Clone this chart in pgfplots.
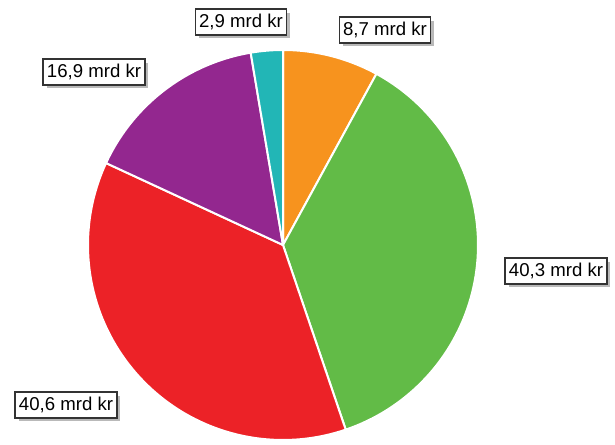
\documentclass[border=0pt]{standalone}
\usepackage{pgfplots}
\pgfplotsset{compat=1.18}
\usepackage{fontspec}
\setmainfont{Liberation Sans}
\usetikzlibrary{shadows}
\definecolor{cOrange}{HTML}{F7931E}
\definecolor{cGreen}{HTML}{62BB47}
\definecolor{cRed}{HTML}{EC2227}
\definecolor{cPurple}{HTML}{93278F}
\definecolor{cTeal}{HTML}{22B6B6}
% values (mrd kr), clockwise from top
\def\vA{8.7}\def\vB{40.3}\def\vC{40.6}\def\vD{16.9}\def\vE{2.9}
\pgfmathsetmacro\tot{\vA+\vB+\vC+\vD+\vE}
\pgfmathsetmacro\aA{0}
\pgfmathsetmacro\aB{\vA/\tot*360}
\pgfmathsetmacro\aC{(\vA+\vB)/\tot*360}
\pgfmathsetmacro\aD{(\vA+\vB+\vC)/\tot*360}
\pgfmathsetmacro\aE{(\vA+\vB+\vC+\vD)/\tot*360}
\def\cx{283}\def\cy{199}\def\rr{195}
\tikzset{lbl/.style={draw=black!80, line width=0.9pt, fill=white, font=\fontsize{9.3}{10}\selectfont,
  inner xsep=1.8pt, inner ysep=0pt, minimum height=12.8pt,
  drop shadow={shadow xshift=1.6pt, shadow yshift=-1.8pt, fill=black!50, opacity=0.55}}}
\begin{document}
\begin{tikzpicture}
\begin{axis}[width=307.5pt, height=222pt, scale only axis,
  xmin=0, xmax=615, ymin=0, ymax=444, hide axis, clip=false,
  samples=80]
\path (rel axis cs:0,0) rectangle (rel axis cs:1,1);
\addplot[draw=white, line width=1pt, fill=cOrange, domain=\aA:\aB] ({\cx+\rr*sin(x)},{\cy+\rr*cos(x)}) -- (axis cs:\cx,\cy) -- cycle;
\addplot[draw=white, line width=1pt, fill=cGreen, domain=\aB:\aC] ({\cx+\rr*sin(x)},{\cy+\rr*cos(x)}) -- (axis cs:\cx,\cy) -- cycle;
\addplot[draw=white, line width=1pt, fill=cRed, domain=\aC:\aD] ({\cx+\rr*sin(x)},{\cy+\rr*cos(x)}) -- (axis cs:\cx,\cy) -- cycle;
\addplot[draw=white, line width=1pt, fill=cPurple, domain=\aD:\aE] ({\cx+\rr*sin(x)},{\cy+\rr*cos(x)}) -- (axis cs:\cx,\cy) -- cycle;
\addplot[draw=white, line width=1pt, fill=cTeal, domain=\aE:360] ({\cx+\rr*sin(x)},{\cy+\rr*cos(x)}) -- (axis cs:\cx,\cy) -- cycle;
\node[lbl] at (axis cs:241,422) {2,9 mrd kr};
\node[lbl] at (axis cs:385,414) {8,7 mrd kr};
\node[lbl] at (axis cs:94,372) {16,9 mrd kr};
\node[lbl] at (axis cs:556,173) {40,3 mrd kr};
\node[lbl] at (axis cs:66,39) {40,6 mrd kr};
\end{axis}
\end{tikzpicture}
\end{document}
